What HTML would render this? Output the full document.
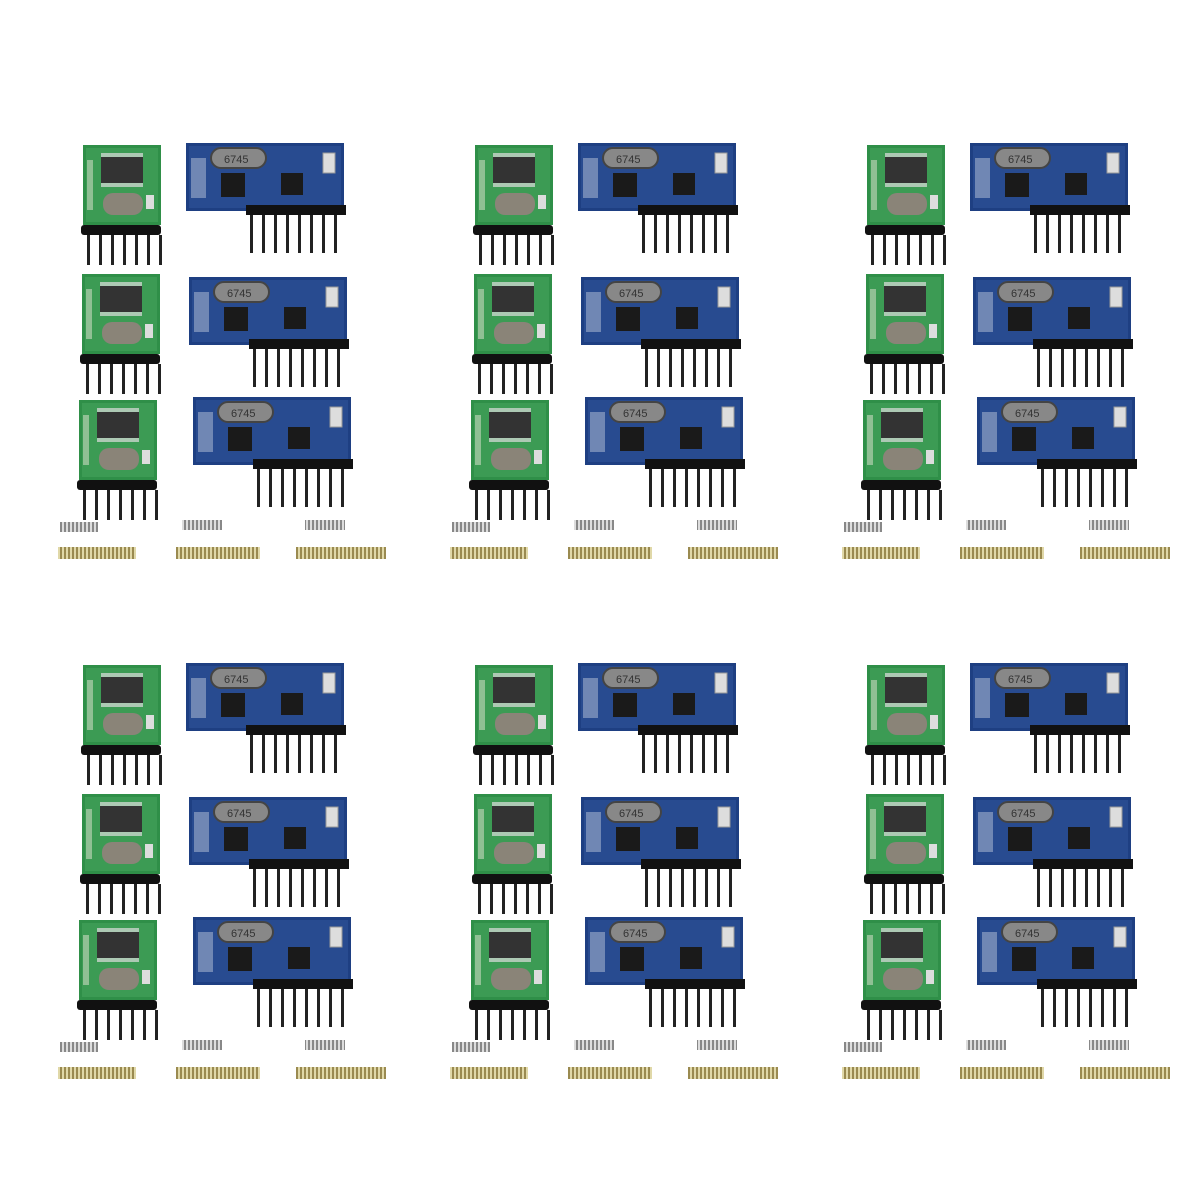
<!DOCTYPE html>
<html><head><style>html,body{margin:0;padding:0;background:#fff}svg{display:block}</style></head>
<body>
<svg width="1200" height="1200" viewBox="0 0 1200 1200" xmlns="http://www.w3.org/2000/svg">
<defs>
<pattern id="pins" width="12" height="40" patternUnits="userSpaceOnUse">
<rect x="4" y="0" width="3" height="40" fill="#222"/>
</pattern>
<pattern id="coil" width="4" height="10" patternUnits="userSpaceOnUse">
<rect width="2" height="10" fill="#9a8a50"/><rect x="2" width="2" height="10" fill="#e0d8a8"/>
</pattern>
<pattern id="coil2" width="4" height="10" patternUnits="userSpaceOnUse">
<rect width="2" height="10" fill="#888"/><rect x="2" width="2" height="10" fill="#ddd"/>
</pattern>
<g id="green">
<rect x="0" y="0" width="78" height="80" fill="#2f8f48"/>
<rect x="3" y="3" width="72" height="74" fill="#4aa860" opacity=".5"/>
<rect x="18" y="12" width="42" height="26" fill="#333"/>
<rect x="18" y="8" width="42" height="4" fill="#ddd" opacity=".7"/>
<rect x="18" y="38" width="42" height="4" fill="#ddd" opacity=".7"/>
<rect x="20" y="48" width="40" height="22" rx="10" fill="#8a8478"/>
<rect x="63" y="50" width="8" height="14" fill="#ddd"/>
<rect x="4" y="15" width="6" height="50" fill="#c8d8c0" opacity=".6"/>
<rect x="-2" y="80" width="80" height="10" rx="3" fill="#111"/>
<rect x="0" y="90" width="84" height="30" fill="url(#pins)"/>
</g>
<g id="blue">
<rect x="0" y="0" width="158" height="68" fill="#1e3f82"/>
<rect x="3" y="3" width="152" height="62" fill="#2f549a" opacity=".6"/>
<rect x="25" y="5" width="55" height="20" rx="10" fill="#888" stroke="#444" stroke-width="2"/>
<text x="38" y="20" font-family="Liberation Sans, sans-serif" font-size="11" fill="#333">6745</text>
<rect x="35" y="30" width="24" height="24" fill="#1a1a1a"/>
<rect x="95" y="30" width="22" height="22" fill="#1a1a1a"/>
<rect x="137" y="10" width="12" height="20" fill="#ddd" stroke="#999"/>
<rect x="5" y="15" width="15" height="40" fill="#c8d0e0" opacity=".45"/>
<rect x="60" y="62" width="100" height="10" fill="#111"/>
<rect x="60" y="72" width="100" height="38" fill="url(#pins)"/>
</g>
<g id="springs">
<rect x="60" y="522" width="38" height="10" fill="url(#coil2)"/>
<rect x="182" y="520" width="40" height="10" fill="url(#coil2)"/>
<rect x="305" y="520" width="40" height="10" fill="url(#coil2)"/>
<rect x="58" y="547" width="78" height="12" fill="url(#coil)"/>
<rect x="176" y="547" width="84" height="12" fill="url(#coil)"/>
<rect x="296" y="547" width="90" height="12" fill="url(#coil)"/>
</g>
<g id="tile">
<use href="#green" x="83" y="145"/>
<use href="#blue" x="186" y="143"/>
<use href="#green" x="82" y="274"/>
<use href="#blue" x="189" y="277"/>
<use href="#green" x="79" y="400"/>
<use href="#blue" x="193" y="397"/>
<use href="#springs"/>
</g>
</defs>
<use href="#tile" x="0" y="0"/>
<use href="#tile" x="392" y="0"/>
<use href="#tile" x="784" y="0"/>
<use href="#tile" x="0" y="520"/>
<use href="#tile" x="392" y="520"/>
<use href="#tile" x="784" y="520"/>
</svg>
</body></html>
